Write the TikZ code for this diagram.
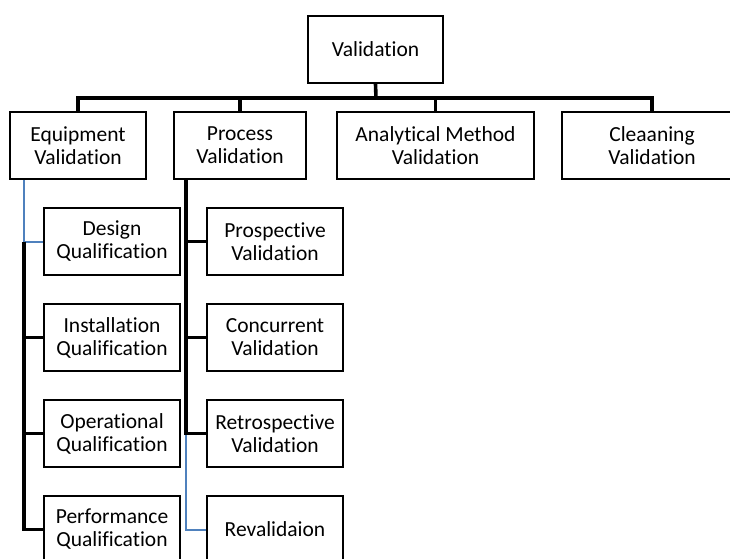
\documentclass[tikz,border=0pt]{standalone}
\usepackage{fontspec}
\setmainfont{Carlito}[Ligatures=CommonOff]
\usepackage{xcolor}
\usepackage{tikz}
\usetikzlibrary{positioning, calc}
\definecolor{linkblue}{RGB}{79, 129, 189}

\begin{document}
\begin{tikzpicture}[x=1pt, y=-1pt,
    box/.style={draw=black, line width=2pt, fill=white, inner sep=0pt, align=center,
        minimum height=67pt, font=\fontsize{21.5}{23}\selectfont},
    conn/.style={draw=black, line width=3.6pt},
    blueconn/.style={draw=linkblue, line width=2pt}]
            % Frame
            \useasboundingbox (0,0) rectangle (730,558);
            \clip (0,0) rectangle (730,558);
            % Top level
            \node[box, minimum width=135pt] (valid) at (375.5,49.5) {Validation};
            % Second level
            \node[box, minimum width=136pt] (equip) at (78,145.5) {Equipment\\Validation};
            \node[box, minimum width=132pt] (proc) at (240,145.5) {Process\\Validation};
            \node[box, minimum width=197pt] (anal) at (435.5,145.5) {Analytical Method\\Validation};
            \node[box, minimum width=180pt] (clean) at (652,145.5) {Cleaaning\\Validation};
            % Bus
            \coordinate (bus) at (376,98);
            \draw[conn] (valid.south) -- (bus);
            \draw[conn] (equip.north) |- (clean.north |- bus) -- (clean.north);
            \draw[conn] (proc.north) -- (proc.north |- bus);
            \draw[conn] (anal.north) -- (anal.north |- bus);
            % Equipment branch
            \node[box, minimum width=136pt] (design) at (112,241.5) {Design\\Qualification};
            \node[box, minimum width=136pt] (install) at (112,337.5) {Installation\\Qualification};
            \node[box, minimum width=136pt] (oper) at (112,433.5) {Operational\\Qualification};
            \node[box, minimum width=136pt] (perf) at (112,529.5) {Performance\\Qualification};
            \coordinate (espine) at ($(equip.south west)+(15,0)$);
            \draw[blueconn] (espine) |- (design.west);
            \draw[conn] (design.west -| espine) |- (perf.west);
            \draw[conn] (install.west) -- (install.west -| espine);
            \draw[conn] (oper.west) -- (oper.west -| espine);
            % Process branch
            \node[box, minimum width=136pt] (prosp) at (275,241.5) {Prospective\\Validation};
            \node[box, minimum width=136pt] (concur) at (275,337.5) {Concurrent\\Validation};
            \node[box, minimum width=136pt] (retro) at (275,433.5) {Retrospective\\Validation};
            \node[box, minimum width=136pt] (reval) at (275,529.5) {Revalidaion};
            \coordinate (pspine) at ($(proc.south west)+(13,0)$);
            \draw[blueconn] (retro.west -| pspine) |- (reval.west);
            \draw[conn] (pspine) |- (retro.west);
            \draw[conn] (prosp.west) -- (prosp.west -| pspine);
            \draw[conn] (concur.west) -- (concur.west -| pspine);
        \end{tikzpicture}
\end{document}
